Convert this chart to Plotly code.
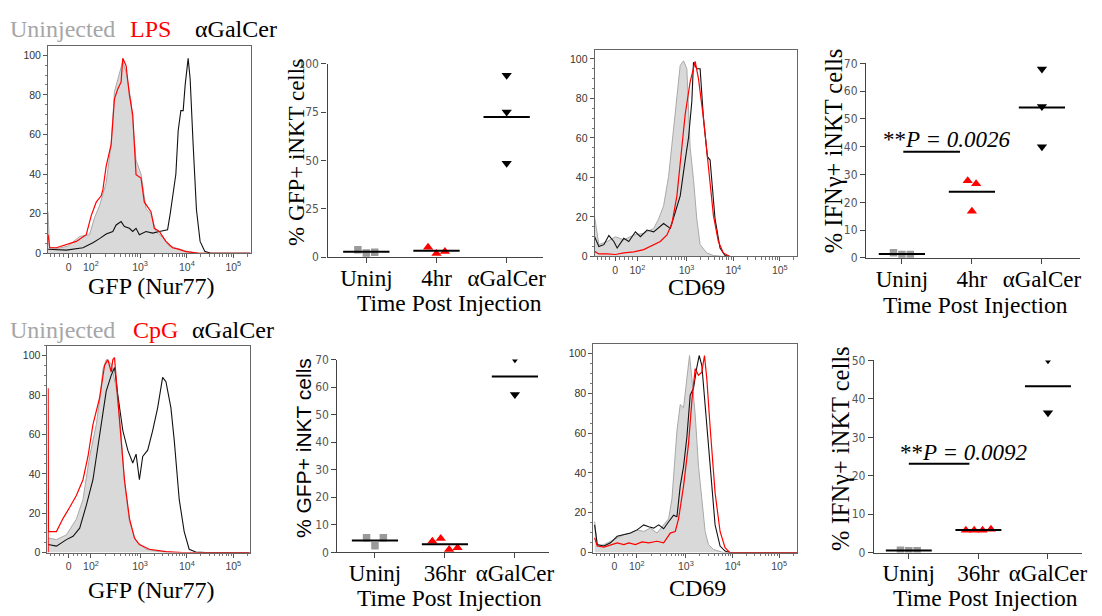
import math
import plotly.graph_objects as go

W, H = 1102, 616
SERIF = "Liberation Serif, Times New Roman, serif"
SANS = "Liberation Sans, Arial, sans-serif"
NARROW = "Liberation Sans Narrow, DejaVu Sans Condensed, Liberation Sans, sans-serif"
GREY_FILL = "#d9d9d9"
GREY_LINE = "#a8a8a8"
GREY_MARK = "#9a9a9a"
RED = "#ff0000"

# ---------------- Histogram data (x = display channel, y = % of max) ----------------
hist_tick_channels = [62, 129, 277, 418, 558]
hist_tick_text = ["0", "10<sup>2</sup>", "10<sup>3</sup>", "10<sup>4</sup>", "10<sup>5</sup>"]

# Panel A: GFP (Nur77), LPS
p1_uninj_x = [0, 4, 30, 60, 95, 125, 140, 155, 175, 190, 200, 215, 225, 235, 250, 265, 280, 295, 310, 325, 345, 365, 395, 420, 455, 610]
p1_uninj_y = [21, 3, 2.5, 3.6, 8.5, 9.4, 18, 24, 35.6, 55, 81.6, 90.6, 97, 91.5, 76.7, 47, 40, 22.5, 20, 11, 8, 3.6, 2, 1, 0, 0]
p1_lps_x = [0, 5, 25, 55, 85, 115, 130, 145, 160, 165, 175, 190, 200, 210, 220, 225, 235, 245, 255, 265, 280, 290, 310, 320, 335, 355, 375, 395, 415, 455, 610]
p1_lps_y = [9.4, 2.8, 2.8, 4.4, 6, 9.4, 19, 25.8, 29, 32, 44, 55, 78, 83, 86.5, 98.4, 94.7, 80, 70, 39.7, 38, 25.8, 21, 12.6, 11, 6, 2.8, 2, 0.8, 0, 0]
p1_agc_x = [0, 55, 105, 135, 155, 175, 195, 205, 220, 230, 245, 255, 265, 275, 295, 315, 335, 360, 368, 375, 385, 392, 400, 407, 413, 422, 428, 437, 447, 458, 472, 490, 610]
p1_agc_y = [2, 1.6, 2.8, 5.3, 7.4, 9.7, 11, 14.3, 16, 13.5, 12.6, 11, 12.6, 9.4, 11, 10.2, 11, 11.8, 20, 29, 40, 62, 72, 72, 85, 98.4, 88, 55, 22, 6, 1, 0, 0]

# Panel C: CD69, LPS
p3_uninj_x = [0, 13, 38, 63, 88, 118, 148, 178, 193, 208, 223, 238, 248, 258, 268, 278, 288, 298, 308, 318, 338, 358, 390, 611]
p3_uninj_y = [20, 6, 7.6, 10, 8.4, 10.9, 11.7, 14.2, 19, 25.7, 40.6, 65, 80, 96.7, 99, 95, 55, 39, 19, 6, 1.8, 0.5, 0, 0]
p3_lps_x = [0, 13, 38, 63, 88, 118, 148, 178, 198, 218, 233, 248, 263, 273, 288, 303, 313, 328, 343, 358, 373, 388, 408, 611]
p3_lps_y = [2.6, 1.3, 1.3, 1, 1.8, 2.3, 3.5, 6, 7.6, 10.9, 16.7, 30.7, 57, 72, 88.4, 98.7, 90, 70, 45.5, 20.8, 7.6, 1.8, 0, 0]
p3_agc_x = [0, 13, 28, 43, 58, 68, 88, 103, 123, 138, 158, 178, 208, 228, 243, 258, 273, 283, 293, 298, 308, 318, 328, 340, 348, 363, 378, 393, 408, 611]
p3_agc_y = [10, 5, 6, 10.6, 7.6, 4.3, 9.2, 7.6, 12.5, 10, 13.4, 12.5, 16.7, 14.2, 22.4, 30.7, 48.8, 60, 78.5, 98.3, 95, 95, 70, 50.5, 48.8, 19, 4.3, 0.5, 0, 0]

# Panel E: GFP (Nur77), CpG
p5_uninj_x = [0, 25, 55, 85, 105, 125, 145, 155, 165, 175, 190, 205, 220, 230, 245, 265, 295, 335, 375, 610]
p5_uninj_y = [7.4, 6.6, 9, 17, 27, 48.8, 65, 77, 93, 98, 96, 83.5, 60, 35.5, 15.7, 5.8, 1.7, 0.5, 0, 0]
p5_cpg_x = [0, 0, 1, 25, 45, 65, 85, 105, 120, 135, 155, 170, 180, 190, 195, 200, 210, 220, 230, 245, 260, 275, 305, 355, 405, 610]
p5_cpg_y = [0, 83.5, 10.7, 10.7, 17.4, 23, 29, 37, 48.8, 65, 78.5, 95, 98, 91.7, 98, 99, 80, 57, 37, 17.4, 7.4, 4.1, 1.7, 0.5, 0, 0]
p5_agc_x = [0, 25, 55, 75, 95, 115, 135, 155, 175, 190, 200, 210, 225, 240, 255, 265, 275, 285, 300, 315, 330, 345, 355, 370, 380, 395, 410, 425, 445, 475, 610]
p5_agc_y = [4.1, 3.3, 6.6, 8.3, 12.4, 24, 37, 60, 82, 90, 94, 80, 62, 52, 45.5, 50, 37, 48.8, 52, 62, 73.5, 89, 86.8, 73.5, 57, 27, 10.7, 1.7, 0.3, 0, 0]

# Panel G: CD69, CpG
p7_uninj_x = [2, 10, 30, 50, 70, 90, 110, 130, 150, 170, 190, 210, 225, 235, 240, 250, 260, 270, 280, 288, 295, 305, 315, 325, 335, 345, 360, 390, 612]
p7_uninj_y = [15.5, 3.3, 4, 5.7, 7.4, 9, 9.8, 11.4, 10.6, 12.3, 9.8, 13.9, 17, 27, 38.4, 61, 74.3, 72.7, 87.4, 98.9, 87.4, 69.4, 43.3, 27, 10.6, 4, 1.6, 0, 0]
p7_cpg_x = [2, 10, 30, 50, 70, 90, 105, 125, 145, 165, 190, 210, 230, 245, 255, 270, 285, 295, 305, 315, 325, 333, 340, 350, 365, 380, 395, 410, 612]
p7_cpg_y = [7.4, 3.3, 2.8, 4, 4.9, 4, 4.9, 4, 5.4, 4.9, 5.7, 4.9, 9.8, 10.6, 17, 33.5, 54.7, 76, 92.3, 89, 90.5, 98.9, 87.4, 63, 30, 10.6, 2.5, 0, 0]
p7_agc_x = [2, 10, 30, 50, 70, 90, 110, 130, 150, 165, 180, 195, 210, 225, 240, 250, 260, 270, 280, 290, 300, 310, 317, 325, 335, 350, 365, 380, 395, 410, 612]
p7_agc_y = [13.9, 4, 3.3, 4.9, 8.2, 9, 9.8, 11.4, 13.9, 13, 12.3, 13.9, 12, 15.5, 18.8, 18, 33.5, 43.3, 58, 79, 82.5, 93, 98.9, 94, 74.3, 43.3, 13.9, 3.3, 0.8, 0, 0]

# ---------------- Dot-plot data ----------------
cats_top = ["Uninj", "4hr", "\u03b1GalCer"]
cats_bot = ["Uninj", "36hr", "\u03b1GalCer"]

p2_uninj = [3.9, 2.2, 2.5]
p2_4hr = [5.1, 1.9, 3.0]
p2_agc = [94, 75, 48.5]

p4_uninj = [1.8, 1.2, 1.2]
p4_4hr = [27.8, 26.7, 16.8]
p4_agc = [68, 54.5, 40]
p4_sig_y = 38.2
p4_sig_span = [0.02, 0.83]
p4_sig_text = "**<i>P = 0.0026</i>"

p6_uninj = [5.3, 2.4, 5.3]
p6_36hr = [4.0, 5.0, 1.0, 1.7]
p6_agc = [70.3, 57.3]

p8_uninj = [0.6, 0.5, 0.5]
p8_36hr = [5.8, 5.8, 5.8, 6.1]
p8_agc = [50.2, 36.4]
p8_sig_y = 23.1
p8_sig_span = [0.0, 0.87]
p8_sig_text = "**<i>P = 0.0092</i>"

# ---------------- helpers ----------------
def dx(a, b):
    return [a / W, b / W]

def dy(top, bot):
    return [1 - bot / H, 1 - top / H]

def paper(x, y):
    return x / W, 1 - y / H

fig = go.Figure()
annotations = []
shapes = []

minor_x = [8, 20, 33, 46, 75, 89, 102, 115]
for start, dec in [(129, 148), (277, 141), (418, 140), (558, 140)]:
    for k in range(2, 10):
        v = start + dec * math.log10(k)
        if v < 610:
            minor_x.append(round(v, 1))

hist_panels = [
    dict(n=1, box=(48.3, 251.7, 40, 252), xr=[0, 610], yr=[0, 104.6],
         curves=[(p1_uninj_x, p1_uninj_y, "u"), (p1_agc_x, p1_agc_y, "k"), (p1_lps_x, p1_lps_y, "r")]),
    dict(n=3, box=(597.3, 801, 44, 255.3), xr=[0, 611], yr=[0, 104.5],
         curves=[(p3_uninj_x, p3_uninj_y, "u"), (p3_agc_x, p3_agc_y, "k"), (p3_lps_x, p3_lps_y, "r")]),
    dict(n=5, box=(47.7, 250.7, 346.7, 558.3), xr=[-2, 607], yr=[0, 105],
         curves=[(p5_uninj_x, p5_uninj_y, "u"), (p5_agc_x, p5_agc_y, "k"), (p5_cpg_x, p5_cpg_y, "r")]),
    dict(n=7, box=(596, 800.7, 345, 558.3), xr=[-2, 612], yr=[0, 104.6],
         curves=[(p7_uninj_x, p7_uninj_y, "u"), (p7_agc_x, p7_agc_y, "k"), (p7_cpg_x, p7_cpg_y, "r")]),
]

for p in hist_panels:
    n = p["n"]
    xa, ya = f"x{n}", f"y{n}"
    for xs, ys, kind in p["curves"]:
        if kind == "u":
            fig.add_trace(go.Scatter(x=xs, y=ys, xaxis=xa, yaxis=ya, mode="lines",
                                     fill="tozeroy", fillcolor=GREY_FILL,
                                     line=dict(color=GREY_LINE, width=1), showlegend=False))
        elif kind == "k":
            fig.add_trace(go.Scatter(x=xs, y=ys, xaxis=xa, yaxis=ya, mode="lines",
                                     line=dict(color="#111111", width=1.1), showlegend=False))
        else:
            fig.add_trace(go.Scatter(x=xs, y=ys, xaxis=xa, yaxis=ya, mode="lines",
                                     line=dict(color=RED, width=1.2), showlegend=False))
    x0, x1, top, bot = p["box"]
    fig.layout[f"xaxis{n}"] = dict(
        domain=dx(x0, x1), range=p["xr"], anchor=ya, tickmode="array",
        tickvals=hist_tick_channels, ticktext=hist_tick_text, ticks="outside", ticklen=4,
        tickcolor="#555", showline=True, mirror=True, linecolor="#666", linewidth=1,
        tickfont=dict(family=SANS, size=10.5, color="#444"), showgrid=False, zeroline=False,
        minor=dict(tickmode="array", tickvals=minor_x, ticks="outside", ticklen=2.5, tickcolor="#777"))
    fig.layout[f"yaxis{n}"] = dict(
        domain=dy(top, bot), range=p["yr"], anchor=xa, tickmode="array",
        tickvals=[0, 20, 40, 60, 80, 100], ticks="outside", ticklen=4, tickcolor="#555",
        showline=True, mirror=True, linecolor="#666", linewidth=1,
        tickfont=dict(family=SANS, size=10.5, color="#333"), showgrid=False, zeroline=False,
        minor=dict(dtick=5, ticks="outside", ticklen=2, tickcolor="#777"))


def spread(vals, px_per_unit, gap=0.12, thresh_px=9):
    order = sorted(range(len(vals)), key=lambda i: vals[i])
    clusters, cur = [], [order[0]]
    for a, b in zip(order, order[1:]):
        if abs(vals[b] - vals[a]) * px_per_unit < thresh_px:
            cur.append(b)
        else:
            clusters.append(cur)
            cur = [b]
    clusters.append(cur)
    offs = [0.0] * len(vals)
    for c in clusters:
        c = sorted(c)
        m = len(c)
        for k, i in enumerate(c):
            offs[i] = (k - (m - 1) / 2) * gap
    return offs

group_styles = [("square", GREY_MARK, 7.5), ("triangle-up", RED, 9), ("triangle-down", "#000000", 9)]

scatter_panels = [
    dict(n=2, box=(329, 545, 58, 256), xr=[-0.553, 2.511], yr=[0, 100], dtick=25,
         cats=cats_top, groups=[p2_uninj, p2_4hr, p2_agc], sig=None),
    dict(n=4, box=(870, 1085, 57.7, 256.7), xr=[-0.512, 2.545], yr=[0, 70], dtick=10,
         cats=cats_top, groups=[p4_uninj, p4_4hr, p4_agc], sig=(p4_sig_y, p4_sig_span)),
    dict(n=6, box=(339, 551.7, 360.7, 558), xr=[-0.536, 2.49], yr=[0, 70], dtick=10,
         cats=cats_bot, groups=[p6_uninj, p6_36hr, p6_agc], sig=None),
    dict(n=8, box=(878, 1087, 361.7, 558.3), xr=[-0.5, 2.49], yr=[0, 50], dtick=10,
         cats=cats_bot, groups=[p8_uninj, p8_36hr, p8_agc], sig=(p8_sig_y, p8_sig_span)),
]

for p in scatter_panels:
    n = p["n"]
    xa, ya = f"x{n}", f"y{n}"
    x0, x1, top, bot = p["box"]
    ppu = (bot - top) / (p["yr"][1] - p["yr"][0])
    for gi, vals in enumerate(p["groups"]):
        sym, col, size = group_styles[gi]
        offs = spread(vals, ppu)
        fig.add_trace(go.Scatter(x=[gi + o for o in offs], y=vals, xaxis=xa, yaxis=ya,
                                 mode="markers", cliponaxis=True,
                                 marker=dict(symbol=sym, color=col, size=size, line=dict(width=0)),
                                 showlegend=False))
        m = sum(vals) / len(vals)
        fig.add_trace(go.Scatter(x=[gi - 0.33, gi + 0.33], y=[m, m], xaxis=xa, yaxis=ya,
                                 mode="lines", line=dict(color="#000", width=2), showlegend=False))
    if p["sig"]:
        sy, (sa, sb) = p["sig"]
        shapes.append(dict(type="line", xref=xa, yref=ya, x0=sa, x1=sb, y0=sy, y1=sy,
                           line=dict(color="#000", width=2)))
    fig.layout[f"xaxis{n}"] = dict(
        domain=dx(x0, x1), range=p["xr"], anchor=ya, tickmode="array", tickvals=[0, 1, 2],
        ticktext=p["cats"], ticks="outside", ticklen=5, tickcolor="#444", showline=True,
        linecolor="#444", linewidth=1.3, tickfont=dict(family=SERIF, size=23, color="#000"),
        ticklabelstandoff=-5, showgrid=False, zeroline=False)
    fig.layout[f"yaxis{n}"] = dict(
        domain=dy(top, bot), range=p["yr"], anchor=xa, dtick=p["dtick"], tick0=0,
        ticks="outside", ticklen=5, tickcolor="#444", showline=True, linecolor="#444",
        linewidth=1.3, tickfont=dict(family=NARROW, size=12, color="#555"),
        showgrid=False, zeroline=False)

# ---------------- text ----------------
def add_text(text, x, y, size, color="#000", family=SERIF, xanchor="center", angle=0):
    px, py = paper(x, y)
    annotations.append(dict(text=text, x=px, y=py, xref="paper", yref="paper", showarrow=False,
                            xanchor=xanchor, yanchor="middle", textangle=angle,
                            font=dict(family=family, size=size, color=color)))

# legend rows
add_text("Uninjected", 8, 23, 24, "#a6a6a6", xanchor="left")
add_text("LPS", 129, 23, 24, RED, xanchor="left")
add_text("\u03b1GalCer", 194, 23, 24, "#000", xanchor="left")
add_text("Uninjected", 8, 330, 24, "#a6a6a6", xanchor="left")
add_text("CpG", 132, 330, 24, RED, xanchor="left")
add_text("\u03b1GalCer", 191, 330, 24, "#000", xanchor="left")

# histogram axis titles
add_text("GFP (Nur77)", 151.7, 285, 24)
add_text("GFP (Nur77)", 151.7, 597, 24)
add_text("CD69", 700, 286, 24)
add_text("CD69", 700.5, 595, 24)

# dot plot titles
add_text("Time Post Injection", 451.3, 303, 23.5)
add_text("Time Post Injection", 980, 305, 23.5)
add_text("Time Post Injection", 451.7, 605, 23.5)
add_text("Time Post Injection", 990, 605, 23.5)
add_text("% GFP+ iNKT cells", 298.3, 148.3, 23, angle=-90)
add_text("% IFN\u03b3+ iNKT cells", 836.7, 146.7, 24.5, angle=-90)
add_text("% GFP+ iNKT cells", 305, 451.7, 21, family=SANS, angle=-90)
add_text("% IFN\u03b3+ iNKT cells", 845, 452, 24.5, angle=-90)

# significance texts
add_text(p4_sig_text, 885, 136, 23, xanchor="left")
add_text(p8_sig_text, 901.7, 456, 23, xanchor="left")

fig.update_layout(width=W, height=H, margin=dict(l=0, r=0, t=0, b=0),
                  paper_bgcolor="white", plot_bgcolor="white",
                  annotations=annotations, shapes=shapes, showlegend=False)

fig.write_html("out.html", config={"displayModeBar": False},
               post_script="document.body.style.margin='0px';document.body.style.overflow='hidden';")
